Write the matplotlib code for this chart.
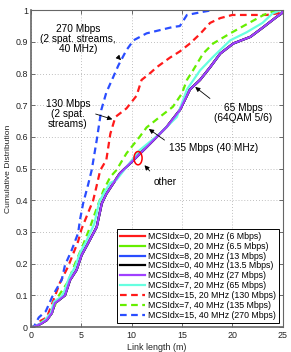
import matplotlib
matplotlib.use("Agg")
import matplotlib.pyplot as plt
from matplotlib.patches import Ellipse

plt.rcParams['font.family'] = ['Liberation Sans', 'DejaVu Sans']

# ---- data ----
other_x = [0.0, 0.3, 1.0, 1.6, 2.1, 2.4, 3.0, 3.4, 3.9, 4.55, 5.05, 5.7, 6.55, 7.05,
           7.5, 8.2, 8.85, 10.2, 11.5, 13.5, 14.8, 15.8, 16.8, 17.8, 18.8, 20.1,
           21.8, 23.1, 24.4, 24.9, 25.0]
other_y = [0.0, 0.0, 0.01, 0.022, 0.044, 0.075, 0.09, 0.10, 0.148, 0.18, 0.227, 0.265,
           0.316, 0.39, 0.42, 0.454, 0.485, 0.527, 0.568, 0.632, 0.685, 0.75, 0.78,
           0.82, 0.863, 0.895, 0.916, 0.947, 0.979, 0.99, 1.0]

mcs7_20_x = [0.0, 0.3, 1.0, 1.5, 2.0, 2.3, 3.0, 3.3, 3.8, 4.4, 4.9, 5.5, 6.3, 6.8,
             7.3, 7.9, 8.5, 10.8, 12.8, 14.5, 15.5, 16.8, 18.1, 19.8, 21.4, 23.0,
             24.0, 24.8]
mcs7_20_y = [0.0, 0.0, 0.012, 0.025, 0.045, 0.08, 0.095, 0.11, 0.155, 0.19, 0.235, 0.27,
             0.325, 0.395, 0.425, 0.455, 0.464, 0.558, 0.61, 0.663, 0.75, 0.81,
             0.853, 0.905, 0.93, 0.96, 0.99, 1.0]

mcs15_20_x = [0.0, 0.3, 1.0, 1.6, 2.2, 2.9, 3.7, 4.7, 5.05, 6.2, 6.5, 6.9, 7.5, 7.9,
              8.4, 9.5, 10.5, 11.0, 11.8, 12.5, 13.8, 14.8, 15.8, 16.8, 17.8, 18.8,
              20.0, 23.4, 24.5, 25.0]
mcs15_20_y = [0.0, 0.0, 0.02, 0.03, 0.08, 0.14, 0.19, 0.27, 0.31, 0.40, 0.44, 0.495,
              0.527, 0.61, 0.663, 0.69, 0.73, 0.78, 0.80, 0.82, 0.85, 0.87, 0.895,
              0.925, 0.96, 0.975, 0.985, 0.985, 0.99, 1.0]

mcs7_40_x = [0.0, 0.3, 1.0, 1.7, 2.25, 2.7, 3.7, 4.4, 5.2, 5.9, 6.55, 7.2, 7.9, 8.5,
             9.5, 10.8, 11.5, 12.8, 14.1, 15.0, 15.5, 16.1, 17.1, 18.1, 19.8, 21.1,
             23.1, 24.4, 25.0]
mcs7_40_y = [0.0, 0.0, 0.015, 0.025, 0.054, 0.095, 0.143, 0.2, 0.26, 0.316, 0.375,
             0.43, 0.474, 0.495, 0.548, 0.60, 0.63, 0.663, 0.695, 0.737, 0.78, 0.81,
             0.863, 0.895, 0.927, 0.95, 0.985, 1.0, 1.0]

mcs15_40_x = [0.0, 0.3, 0.8, 1.5, 2.2, 3.07, 3.4, 4.07, 4.7, 4.9, 5.2, 5.7, 6.05,
              6.55, 7.0, 7.5, 8.2, 8.7, 9.5, 10.2, 11.5, 12.8, 14.1, 14.8, 15.5,
              17.1, 18.0]
mcs15_40_y = [0.0, 0.0, 0.03, 0.05, 0.1, 0.148, 0.195, 0.243, 0.296, 0.34, 0.39,
              0.45, 0.495, 0.59, 0.685, 0.74, 0.79, 0.826, 0.874, 0.905, 0.927,
              0.937, 0.947, 0.95, 0.985, 0.995, 1.0]

labels = ["MCSIdx=0, 20 MHz (6 Mbps)",
          "MCSIdx=0, 20 MHz (6.5 Mbps)",
          "MCSIdx=8, 20 MHz (13 Mbps)",
          "MCSIdx=0, 40 MHz (13.5 Mbps)",
          "MCSIdx=8, 40 MHz (27 Mbps)",
          "MCSIdx=7, 20 MHz (65 Mbps)",
          "MCSIdx=15, 20 MHz (130 Mbps)",
          "MCSIdx=7, 40 MHz (135 Mbps)",
          "MCSIdx=15, 40 MHz (270 Mbps)"]

x_ticks = [0, 5, 10, 15, 20, 25]
y_ticks = [0, 0.1, 0.2, 0.3, 0.4, 0.5, 0.6, 0.7, 0.8, 0.9, 1]
y_ticklabels = ["0", "0.1", "0.2", "0.3", "0.4", "0.5", "0.6", "0.7", "0.8", "0.9", "1"]

# ---- figure ----
fig = plt.figure(figsize=(2.91, 3.52), dpi=100)
ax = fig.add_axes([0.1055, 0.071, 0.866, 0.9])

red = '#ff1a1a'
green = '#66ee00'
blue = '#2a4dff'
purple = '#a040ff'
cyan = '#66ffe0'
lw = 1.6
dash = (0, (3.0, 2.0))

ax.plot(other_x, other_y, color=red, lw=lw, label=labels[0])
ax.plot(other_x, other_y, color=green, lw=lw, label=labels[1])
ax.plot(other_x, other_y, color=blue, lw=lw, label=labels[2])
ax.plot(other_x, other_y, color='black', lw=lw, label=labels[3])
ax.plot(mcs7_20_x, mcs7_20_y, color=cyan, lw=lw, label=labels[5], zorder=2.1)
ax.plot(other_x, other_y, color=purple, lw=lw, label=labels[4], zorder=2.2)
ax.plot(mcs15_20_x, mcs15_20_y, color=red, lw=lw, ls=dash, label=labels[6])
ax.plot(mcs7_40_x, mcs7_40_y, color=green, lw=lw, ls=dash, label=labels[7])
ax.plot(mcs15_40_x, mcs15_40_y, color=blue, lw=lw, ls=dash, label=labels[8])

ax.set_xlim(0, 25)
ax.set_ylim(0, 1)
ax.set_xticks(x_ticks)
ax.set_yticks(y_ticks)
ax.set_yticklabels(y_ticklabels)
ax.tick_params(direction='in', top=True, right=True, labelsize=6.4, length=3,
               width=0.6, color='#555555', labelcolor='#222222')
ax.tick_params(axis='y', pad=2)
ax.tick_params(axis='x', pad=3)
ax.grid(True, ls=(0, (1, 2.5)), color='#aaaaaa', lw=0.6)
for s in ax.spines.values():
    s.set_color('#666666')
    s.set_linewidth(0.8)
ax.spines['left'].set_linewidth(1.2)
ax.spines['bottom'].set_linewidth(1.2)

ax.set_xlabel("Link length (m)", fontsize=6.4, color='#222222', labelpad=2)
ax.set_ylabel("Cumulative Distribution", fontsize=6.1, color='#222222', labelpad=2.5)

# legend
handles, labs = ax.get_legend_handles_labels()
order = [labs.index(l) for l in labels]
leg = ax.legend([handles[i] for i in order], [labs[i] for i in order],
                loc='lower right', bbox_to_anchor=(0.987, 0.013), fontsize=6.3,
                frameon=True, fancybox=False, framealpha=1, edgecolor='black',
                handlelength=2.9, handletextpad=0.35, labelspacing=0.1,
                borderpad=0.35, borderaxespad=0)
leg.get_frame().set_linewidth(0.7)

# annotations
fs = 7.3
ap = dict(arrowstyle='-|>', color='black', lw=0.6, mutation_scale=7)
ax.text(4.7, 0.908, "270 Mbps\n(2 spat. streams,\n40 MHz)", fontsize=fs,
        ha='center', va='center', linespacing=1.0)
ax.annotate("", xy=(9.15, 0.836), xytext=(8.67, 0.852), arrowprops=ap)
ax.text(3.7, 0.672, "130 Mbps\n(2 spat.\nstreams)", fontsize=fs,
        ha='center', va='center', linespacing=1.0)
ax.annotate("", xy=(8.36, 0.653), xytext=(6.18, 0.675), arrowprops=ap)
ax.text(21.1, 0.677, "65 Mbps\n(64QAM 5/6)", fontsize=fs, ha='center',
        va='center', linespacing=1.0)
ax.annotate("", xy=(16.1, 0.763), xytext=(18.0, 0.716), arrowprops=ap)
ax.text(18.1, 0.565, "135 Mbps (40 MHz)", fontsize=fs, ha='center', va='center')
ax.annotate("", xy=(11.5, 0.63), xytext=(13.5, 0.585), arrowprops=ap)
ax.text(13.3, 0.457, "other", fontsize=fs, ha='center', va='center')
ax.annotate("", xy=(11.1, 0.517), xytext=(12.0, 0.486), arrowprops=ap)
ax.add_patch(Ellipse((10.65, 0.533), 0.8, 0.042, fill=False, ec='red', lw=1.1,
                     zorder=5))

fig.savefig("out.png", dpi=100)
